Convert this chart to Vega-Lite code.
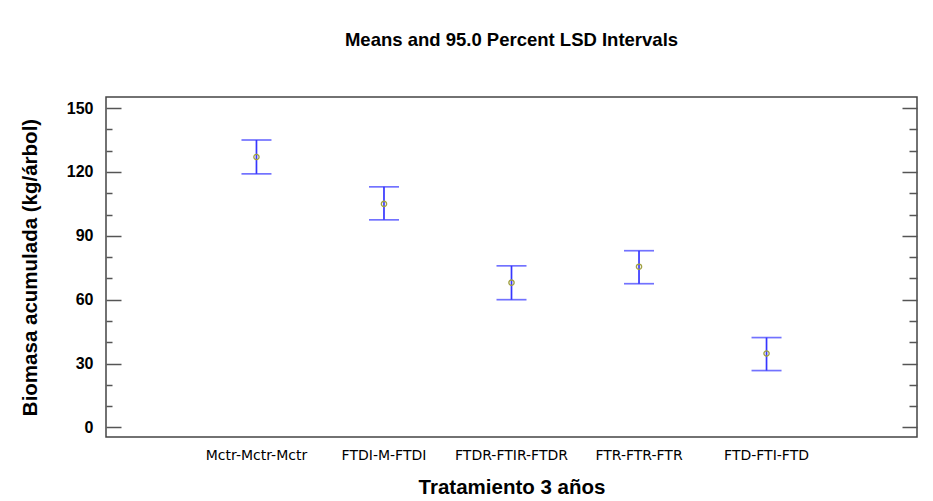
{
  "$schema": "https://vega.github.io/schema/vega-lite/v6.json",
  "width": 811,
  "height": 340,
  "autosize": {"type": "none"},
  "padding": {"left": 106, "top": 97, "right": 16, "bottom": 64},
  "background": "white",
  "config": {
    "view": {"stroke": "#444444", "strokeWidth": 1.5},
    "font": "Liberation Sans"
  },
  "title": {
    "text": "Means and 95.0 Percent LSD Intervals",
    "font": "Liberation Sans",
    "fontSize": 18.5,
    "fontWeight": "bold",
    "color": "#000000",
    "offset": 48,
    "anchor": "middle"
  },
  "data": {
    "values": [
      {"trat": "Mctr-Mctr-Mctr", "mean": 127.0, "lo": 119.1, "hi": 135.0},
      {"trat": "FTDI-M-FTDI", "mean": 105.0, "lo": 97.5, "hi": 113.0},
      {"trat": "FTDR-FTIR-FTDR", "mean": 68.0, "lo": 60.0, "hi": 75.9},
      {"trat": "FTR-FTR-FTR", "mean": 75.5, "lo": 67.5, "hi": 83.0},
      {"trat": "FTD-FTI-FTD", "mean": 34.7, "lo": 26.7, "hi": 42.2}
    ]
  },
  "encoding": {
    "x": {
      "field": "trat",
      "type": "nominal",
      "sort": null,
      "scale": {"type": "band", "paddingInner": 0.5, "paddingOuter": 0.93},
      "axis": {
        "title": "Tratamiento 3 años",
        "titleFont": "Liberation Sans",
        "titleFontSize": 20.5,
        "titleFontWeight": "bold",
        "titleColor": "#000000",
        "titlePadding": 15,
        "labelFont": "DejaVu Sans",
        "labelFontSize": 14,
        "labelColor": "#000000",
        "labelAngle": 0,
        "labelPadding": 11,
        "ticks": false,
        "domain": false,
        "grid": false
      }
    }
  },
  "layer": [
    {
      "mark": {"type": "rule", "color": "#3636ff", "strokeWidth": 1.7},
      "encoding": {
        "y": {
          "field": "lo",
          "type": "quantitative",
          "scale": {"domain": [-4.5, 155.2], "nice": false, "zero": false},
          "axis": {
            "orient": "left",
            "title": "Biomasa acumulada  (kg/árbol)",
            "titleFont": "Liberation Sans",
            "titleFontSize": 20.5,
            "titleFontWeight": "bold",
            "titleColor": "#000000",
            "titlePadding": 26,
            "values": [0, 10, 20, 30, 40, 50, 60, 70, 80, 90, 100, 110, 120, 130, 140, 150],
            "labelExpr": "datum.value % 30 === 0 ? datum.label : ''",
            "labelFont": "Liberation Sans",
            "labelFontSize": 16,
            "labelFontWeight": "bold",
            "labelColor": "#000000",
            "labelPadding": 28,
            "tickSize": {"condition": {"test": "datum.value % 30 === 0", "value": -15}, "value": -6},
            "tickColor": "#555555",
            "tickWidth": 1.5,
            "domain": false,
            "grid": false
          }
        },
        "y2": {"field": "hi"}
      }
    },
    {
      "mark": {"type": "tick", "color": "#3636ff", "thickness": 1.7, "size": 30, "orient": "horizontal"},
      "encoding": {
        "y": {
          "field": "lo",
          "type": "quantitative",
          "axis": {
            "orient": "right",
            "title": null,
            "labels": false,
            "values": [0, 10, 20, 30, 40, 50, 60, 70, 80, 90, 100, 110, 120, 130, 140, 150],
            "tickSize": {"condition": {"test": "datum.value % 30 === 0", "value": -15}, "value": -8},
            "tickColor": "#555555",
            "tickWidth": 1.5,
            "domain": false,
            "grid": false
          }
        }
      }
    },
    {
      "mark": {"type": "tick", "color": "#3636ff", "thickness": 1.7, "size": 30, "orient": "horizontal"},
      "encoding": {
        "y": {"field": "hi", "type": "quantitative", "axis": null}
      }
    },
    {
      "mark": {"type": "point", "shape": "circle", "size": 28, "stroke": "#a0a040", "strokeWidth": 1.3, "filled": false, "opacity": 1},
      "encoding": {
        "y": {"field": "mean", "type": "quantitative", "axis": null}
      }
    }
  ],
  "resolve": {"axis": {"y": "independent"}}
}
